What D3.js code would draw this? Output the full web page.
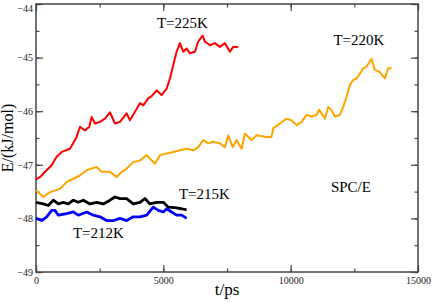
<!DOCTYPE html>
<html>
<head>
<meta charset="utf-8">
<script src="https://cdn.jsdelivr.net/npm/d3@7"></script>
<style>
  body { margin: 0; background: #fff; }
  text { font-family: "Liberation Serif", "DejaVu Serif", serif; }
</style>
</head>
<body>
<div id="chart"></div>
<script>
// time (ps), energy (kJ/mol)
var run225 = [[0,-47.27],[180,-47.22],[353,-47.13],[615,-47.01],[810,-46.85],[1010,-46.76],[1335,-46.70],[1596,-46.48],[1727,-46.29],[1923,-46.36],[2093,-46.29],[2185,-46.11],[2316,-46.23],[2512,-46.20],[2708,-46.14],[2905,-46.02],[3101,-46.23],[3297,-46.20],[3560,-46.04],[3690,-46.17],[3886,-46.01],[4082,-45.85],[4212,-45.89],[4408,-45.76],[4540,-45.72],[4737,-45.61],[4934,-45.70],[5130,-45.58],[5260,-45.39],[5390,-45.14],[5522,-44.89],[5652,-44.73],[5782,-44.89],[5915,-44.83],[6045,-44.92],[6241,-44.89],[6370,-44.70],[6543,-44.59],[6633,-44.70],[6830,-44.77],[7026,-44.73],[7222,-44.80],[7418,-44.73],[7615,-44.89],[7744,-44.80],[7940,-44.80]];

var run220 = [[0,-47.48],[224,-47.57],[287,-47.60],[550,-47.51],[942,-47.45],[1205,-47.32],[1465,-47.26],[1727,-47.20],[1990,-47.10],[2185,-47.07],[2382,-47.04],[2578,-47.13],[2905,-47.13],[3167,-47.23],[3364,-47.13],[3560,-47.07],[3820,-46.95],[4082,-46.92],[4345,-46.82],[4671,-46.98],[4867,-46.82],[5130,-46.79],[5390,-46.76],[5652,-46.73],[5915,-46.70],[6176,-46.73],[6370,-46.67],[6567,-46.54],[6763,-46.60],[6960,-46.57],[7222,-46.60],[7418,-46.67],[7549,-46.45],[7732,-46.67],[7877,-46.54],[8073,-46.70],[8203,-46.42],[8466,-46.54],[8662,-46.45],[9054,-46.48],[9250,-46.48],[9315,-46.32],[9577,-46.23],[9840,-46.14],[10036,-46.17],[10232,-46.26],[10428,-46.20],[10625,-46.07],[10821,-46.10],[11017,-46.07],[11120,-45.97],[11343,-46.14],[11473,-45.92],[11604,-45.98],[11735,-46.10],[11931,-46.07],[12062,-45.92],[12195,-45.73],[12325,-45.51],[12454,-45.42],[12587,-45.39],[12717,-45.30],[12847,-45.20],[12980,-45.17],[13176,-45.02],[13306,-45.23],[13502,-45.27],[13698,-45.39],[13828,-45.20],[13960,-45.20]];

var run215 = [[0,-47.70],[287,-47.73],[483,-47.76],[680,-47.66],[876,-47.73],[1073,-47.70],[1270,-47.73],[1465,-47.66],[1660,-47.70],[1860,-47.66],[2120,-47.73],[2382,-47.70],[2643,-47.73],[2905,-47.66],[3101,-47.60],[3297,-47.63],[3560,-47.63],[3820,-47.73],[4082,-47.70],[4278,-47.63],[4474,-47.73],[4737,-47.70],[5000,-47.70],[5195,-47.79],[5456,-47.80],[5718,-47.82],[5915,-47.84]];

var run212 = [[0,-48.00],[224,-48.04],[420,-47.97],[615,-47.85],[745,-47.85],[876,-47.94],[1205,-47.91],[1465,-47.88],[1662,-47.94],[1990,-47.88],[2250,-47.94],[2512,-47.97],[2774,-48.04],[3035,-48.04],[3297,-48.00],[3560,-48.04],[3820,-47.97],[4082,-47.97],[4345,-47.94],[4605,-47.79],[4800,-47.85],[5000,-47.88],[5130,-47.82],[5326,-47.88],[5522,-47.94],[5718,-47.94],[5915,-48.00]];

var xTicks = [0, 5000, 10000, 15000];
var yTicks = [-49, -48, -47, -46, -45, -44];

var width = 433, height = 304;
var margin = {top: 4, right: 15, bottom: 32, left: 36};
var w = width - margin.left - margin.right,
    h = height - margin.top - margin.bottom;

var svg = d3.select("#chart").append("svg")
  .attr("width", width)
  .attr("height", height);

var g = svg.append("g")
  .attr("transform", "translate(" + margin.left + "," + margin.top + ")");

var x = d3.scaleLinear().domain([0, 15000]).range([0, w]);
var y = d3.scaleLinear().domain([-49, -44]).range([h, 0]);

/*
 * Frame with inward ticks on all four sides.
 */
var axisColor = "#444";
function styleAxis(sel) {
  sel.select(".domain").remove();
  sel.selectAll("line").attr("stroke", axisColor).attr("stroke-width", 1.2);
  sel.selectAll("text").attr("fill", "#222").style("font-size", "10px")
    .style("font-family", "'Liberation Serif', serif");
}

var minorX = d3.range(0, 15001, 2500), minorY = d3.range(-49, -43.9, 0.5);

// minor ticks
g.append("g").attr("transform", "translate(0," + h + ")")
  .call(d3.axisBottom(x).tickValues(minorX).tickSize(-3.5).tickFormat("")).call(styleAxis);
g.append("g")
  .call(d3.axisTop(x).tickValues(minorX).tickSize(-3.5).tickFormat("")).call(styleAxis);
g.append("g")
  .call(d3.axisLeft(y).tickValues(minorY).tickSize(-3.5).tickFormat("")).call(styleAxis);
g.append("g").attr("transform", "translate(" + w + ",0)")
  .call(d3.axisRight(y).tickValues(minorY).tickSize(-3.5).tickFormat("")).call(styleAxis);

// major ticks with labels on bottom and left
g.append("g").attr("transform", "translate(0," + h + ")")
  .call(d3.axisBottom(x).tickValues(xTicks).tickSize(-7).tickPadding(5).tickFormat(d3.format("d")))
  .call(styleAxis);
g.append("g")
  .call(d3.axisTop(x).tickValues(xTicks).tickSize(-7).tickFormat("")).call(styleAxis);
var yAxisG = g.append("g")
  .call(d3.axisLeft(y).tickValues(yTicks).tickSize(-7).tickPadding(3).tickFormat(d3.format("d")))
  .call(styleAxis);
// top label is nudged down so it stays inside the page
yAxisG.selectAll("text").filter(function(d) { return d === -44; }).attr("dy", "0.72em");
g.append("g").attr("transform", "translate(" + w + ",0)")
  .call(d3.axisRight(y).tickValues(yTicks).tickSize(-7).tickFormat("")).call(styleAxis);

g.append("rect")
  .attr("width", w).attr("height", h)
  .attr("fill", "none").attr("stroke", axisColor).attr("stroke-width", 1.5);

/*
 * Curves.
 */
var line = d3.line()
  .x(function(d) { return x(d[0]); })
  .y(function(d) { return y(d[1]); });

var series = [
  {data: run220, color: "#ffa500", width: 2},
  {data: run225, color: "#ff0000", width: 2},
  {data: run215, color: "#000000", width: 2.8},
  {data: run212, color: "#0000ff", width: 2.8}
];

g.selectAll(".run").data(series).enter().append("path")
  .attr("class", "run")
  .attr("fill", "none")
  .attr("stroke", function(d) { return d.color; })
  .attr("stroke-width", function(d) { return d.width; })
  .attr("stroke-linejoin", "round")
  .attr("d", function(d) { return line(d.data); });

/*
 * Annotations.
 */
var notes = [
  {text: "T=225K", t: 5750, e: -44.45},
  {text: "T=220K", t: 12680, e: -44.77},
  {text: "T=215K", t: 6614, e: -47.63},
  {text: "T=212K", t: 2450, e: -48.37},
  {text: "SPC/E", t: 12365, e: -47.51}
];
g.selectAll(".note").data(notes).enter().append("text")
  .attr("class", "note")
  .attr("x", function(d) { return x(d.t); })
  .attr("y", function(d) { return y(d.e); })
  .attr("text-anchor", "middle")
  .style("font-size", "15px")
  .text(function(d) { return d.text; });

svg.append("text")
  .attr("x", margin.left + w / 2)
  .attr("y", 295)
  .attr("text-anchor", "middle")
  .style("font-size", "17px")
  .text("t/ps");

svg.append("text")
  .attr("transform", "translate(13," + (margin.top + h / 2) + ") rotate(-90)")
  .attr("text-anchor", "middle")
  .style("font-size", "16px")
  .text("E/(kJ/mol)");
</script>
</body>
</html>
